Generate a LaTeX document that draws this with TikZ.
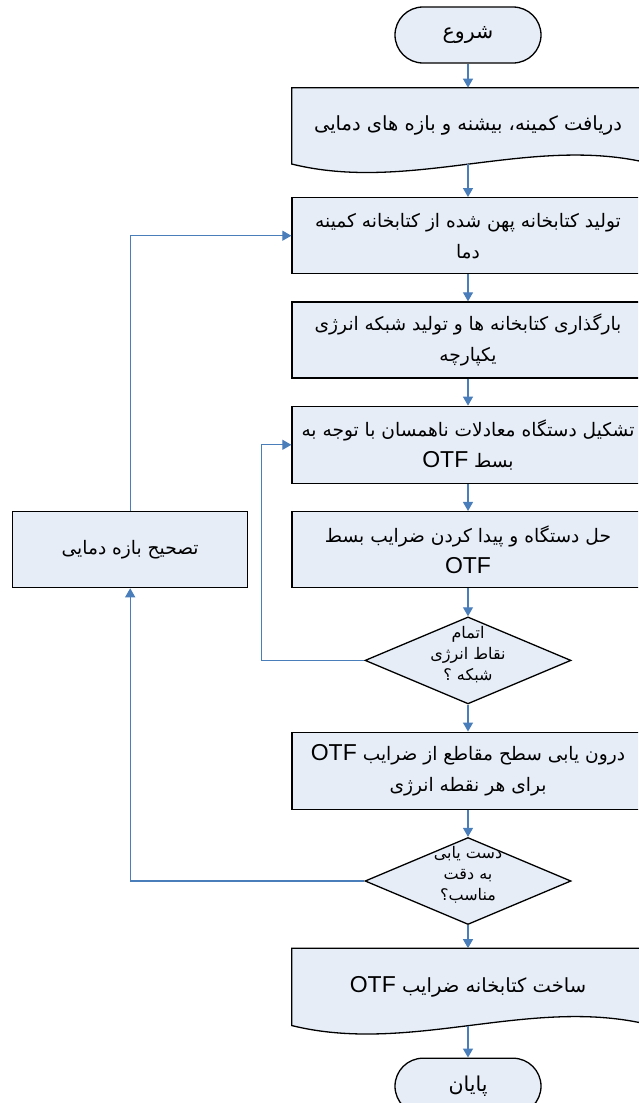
\documentclass[tikz,border=0pt]{standalone}
\usepackage{fontspec}
\usetikzlibrary{arrows.meta, positioning, calc, shapes.geometric, backgrounds}
\TeXXeTstate=1
\newfontfamily\arabicfont[Script=Arabic]{DejaVu Sans}
\newfontfamily\latinfont{Liberation Sans}
\definecolor{boxfill}{HTML}{E6EDF7}
\definecolor{flowline}{HTML}{4A7EBB}
\newcommand{\fa}[1]{\beginR #1\endR}
\newcommand{\up}[1]{\raisebox{6pt}[\height][\depth]{\fa{#1}}}
\newcommand{\otf}{\beginL{\latinfont\fontsize{23}{31}\selectfont OTF}\endL}
% document shape: straight top, wavy bottom
\newcommand{\wavebox}[1]{%
  \begin{scope}[on background layer]
    \draw[boxline, fill=boxfill] (#1.north west) -- (#1.north east) -- ([yshift=2pt]#1.south east)
      .. controls +(-117pt,26pt) and +(117pt,-29pt) .. (#1.south west) -- cycle;
  \end{scope}}

\begin{document}
\begin{tikzpicture}[
    boxline/.style={draw=black, line width=1.3pt},
    term/.style={boxline, fill=boxfill, rounded corners=28pt, minimum width=146pt, minimum height=56pt,
                 font=\arabicfont\fontsize{20.5}{24}\selectfont},
    proc/.style={boxline, fill=boxfill, minimum width=352pt, inner sep=4pt, align=center,
                 font=\arabicfont\fontsize{18.6}{31}\selectfont},
    doc/.style={minimum width=352pt, minimum height=76pt, inner sep=4pt, align=center,
                font=\arabicfont\fontsize{19.5}{31}\selectfont},
    test/.style={diamond, boxline, fill=boxfill, minimum width=206pt, minimum height=87pt, aspect=2.37,
                 inner sep=-8pt, align=center, font=\arabicfont\fontsize{16}{21}\selectfont},
    flow/.style={-{Triangle[width=10pt,length=9pt]}, draw=flowline, line width=1.2pt},
]
    \path[use as bounding box, clip] (0,0) rectangle (638pt,-1103pt);

    % Main column
    \node[term] (start) at (468pt,-35pt) {\fa{شروع}};
    \node[doc, below=24pt of start] (input) {\fa{دریافت کمینه، بیشنه و بازه های دمایی}};
    \wavebox{input}
    \node[proc, minimum height=76pt, below=33pt of input] (lib)
        {\fa{تولید کتابخانه پهن شده از کتابخانه کمینه}\\\fa{دما}};
    \node[proc, minimum height=76pt, below=27pt of lib] (load)
        {\fa{بارگذاری کتابخانه ها و تولید شبکه انرژی}\\\fa{یکپارچه}};
    \node[proc, minimum height=77pt, below=27pt of load] (system)
        {\fa{تشکیل دستگاه معادلات ناهمسان با توجه به}\\\fa{بسط \otf}};
    \node[proc, minimum height=76pt, below=27pt of system] (solve)
        {\fa{حل دستگاه و پیدا کردن ضرایب بسط}\\\otf};
    \node[test, below=28pt of solve] (check1) {\up{اتمام}\\\up{نقاط انرژی}\\\up{شبکه ؟}};
    \node[proc, minimum height=77pt, below=27pt of check1] (interp)
        {\fa{درون یابی سطح مقاطع از ضرایب \otf}\\\fa{برای هر نقطه انرژی}};
    \node[test, below=27pt of interp] (check2) {\up{دست یابی}\\\up{به دقت}\\\up{مناسب؟}};
    \node[doc, minimum height=77pt, below=23pt of check2] (build) {\fa{ساخت کتابخانه  ضرایب \otf}};
    \wavebox{build}
    \node[term, below=32pt of build] (stop) {\fa{پایان}};

    % Side box
    \node[proc, minimum width=235pt, minimum height=76pt, left=43pt of solve] (fix) {\fa{تصحیح بازه دمایی}};

    % Arrows
    \draw[flow] (start) -- (input);
    \draw[flow] (input) -- (lib);
    \draw[flow] (lib) -- (load);
    \draw[flow] (load) -- (system);
    \draw[flow] (system) -- (solve);
    \draw[flow] (solve) -- (check1);
    \draw[flow] (check1) -- (interp);
    \draw[flow] (interp) -- (check2);
    \draw[flow] (check2) -- (build);
    \draw[flow] (build) -- (stop);

    % Loops back
    \draw[flow] (check1.west) -- ++(-103pt,0) |- (system.west);
    \draw[flow] (check2.west) -| (fix.south);
    \draw[flow] (fix.north) |- (lib.west);
\end{tikzpicture}
\end{document}
